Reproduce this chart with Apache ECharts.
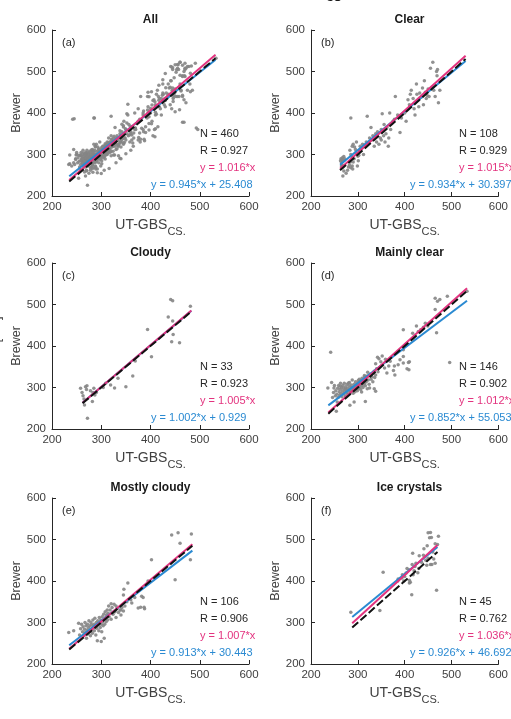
<!DOCTYPE html>
<html>
<head>
<meta charset="utf-8">
<script src="https://cdn.jsdelivr.net/npm/echarts@6/dist/echarts.min.js"></script>
<style>
  html, body { margin: 0; padding: 0; background: #fff; }
  #chart { width: 511px; height: 719px; }
</style>
</head>
<body>
<div id="chart"></div>
<script>
// panel texts
const titles = ['All', 'Clear', 'Cloudy', 'Mainly clear', 'Mostly cloudy', 'Ice crystals']
const panelTags = ['(a)', '(b)', '(c)', '(d)', '(e)', '(f)']
const nVals = [460, 108, 33, 146, 106, 45]
const rVals = ['0.927', '0.929', '0.923', '0.902', '0.906', '0.762']
const kVals = [1.016, 1.015, 1.005, 1.012, 1.007, 1.036]
const slopeVals = [0.945, 0.934, 1.002, 0.852, 0.913, 0.926]
const interceptVals = [25.408, 30.397, 0.929, 55.053, 30.443, 46.692]
const lineStart = [235, 262, 262, 237, 235, 288]
const lineEnd = [532, 530, 483, 533, 485, 470]
const axisTicks = [200, 300, 400, 500, 600]

// scatter points [UT-GBS, Brewer]
const clearPts = [
  [263,285],[264,290],[265,280],[266,288],[267,292],[268,283],[266,276],[270,295],[271,286],[272,290],
  [268,270],[265,272],[270,260],[268,248],[275,255],[278,262],[280,270],[282,275],[285,268],[284,282],
  [288,272],[289,265],[290,282],[292,290],[287,295],[285,300],[283,310],[288,320],[290,325],[293,318],
  [295,312],[296,305],[298,300],[300,296],[302,298],[299,272],[301,285],[304,310],[297,330],[285,388],
  [305,320],[308,315],[310,325],[312,300],[315,322],[318,330],[320,392],[322,328],[325,340],[328,365],
  [330,335],[332,345],[335,320],[338,350],[340,330],[342,355],[345,325],[348,340],[350,335],[350,360],
  [352,398],[355,345],[356,372],[358,330],[360,350],[362,365],[365,320],[366,340],[368,400],[370,360],
  [372,375],[375,380],[378,385],[380,440],[385,395],[390,353],[393,388],
  [400,400],[403,380],[407,432],[410,420],[412,445],[414,455],[418,435],[420,410],[422,395],[425,470],
  [426,445],[428,430],[430,415],[432,448],[435,438],[438,460],[440,420],[442,478],[444,450],[446,435],
  [448,442],[450,458],[452,440],[455,508],[458,462],[460,522],[462,455],[465,440],[468,500],[469,490],
  [470,505],[472,425],[475,455]
]
const cloudyPts = [
  [258,298],[261,288],[263,280],[268,302],[270,295],[271,304],[265,272],[272,226],[266,258],[278,292],
  [283,288],[282,266],[285,298],[290,288],[287,282],[304,300],[309,310],[319,306],[327,299],[334,322],
  [350,302],[364,328],[369,364],[394,440],[402,374],[436,470],[441,512],[445,509],[445,460],[443,410],
  [446,428],[459,408],[481,496]
]
const mainlyPts = [
  [242,385],[465,515],[475,512],[491,520],[465,488],[468,432],[533,532],[496,360],[397,439],[417,431],
  [429,435],[434,439],[444,455],[408,360],[405,345],[449,448],[440,445],[397,391],[470,508],[425,448],
  [352,376],[359,368],[366,352],[376,341],[379,330],[357,347],[362,335],[369,363],[386,355],[390,367],
  [397,375],[345,369],[338,357],[342,373],[335,339],[397,359],[410,362],[409,343],[321,337],[314,329],
  [311,309],[320,297],[338,291],[308,289],[301,317],[292,265],[316,266],[283,257],[254,243],[256,265],
  [246,276],[248,288],[250,305],[252,280],[253,292],[255,284],[257,298],[258,276],[259,305],[260,290],
  [261,282],[262,296],[263,310],[264,286],[265,300],[266,278],[267,292],[268,305],[269,285],[270,298],
  [271,310],[272,290],[273,280],[274,302],[275,295],[276,288],[277,308],[278,298],[279,284],[280,292],
  [281,304],[282,312],[283,296],[284,288],[285,300],[286,306],[287,292],[288,318],[289,300],[290,286],
  [291,296],[292,308],[293,300],[294,290],[295,314],[296,302],[297,296],[298,308],[299,292],[300,305],
  [301,298],[302,312],[303,320],[304,300],[305,308],[306,295],[307,316],[308,304],[309,322],[310,310],
  [311,300],[312,318],[313,308],[314,326],[315,312],[316,304],[317,320],[318,314],[320,328],[322,318],
  [324,308],[326,332],[328,320],[330,326],[332,314],[334,336],[336,324],[338,330],[340,345],[343,338],
  [236,299],[244,312],[249,299],[263,303],[273,295],[280,311],[325,299],[335,297],[349,362],[378,352]
]
const mostlyPts = [
  [234,276],[244,280],[254,298],[256,270],[300,254],[306,262],[354,395],[402,451],[443,511],[456,516],
  [460,491],[483,513],[481,451],[450,403],[380,337],[387,337],[382,363],[362,347],[345,366],[346,380],
  [320,345],[330,340],[360,355],[375,335],[340,330],[385,360],[388,333],[352,350],[368,360],[395,400],
  [258,285],[260,296],[262,278],[263,290],[265,270],[266,284],[267,300],[268,276],[269,292],[270,262],
  [271,282],[272,296],[273,272],[274,288],[275,304],[276,278],[277,292],[278,268],[279,300],[280,284],
  [281,294],[282,274],[283,306],[284,288],[285,296],[286,280],[287,310],[288,292],[289,270],[290,300],
  [291,286],[292,256],[293,304],[294,294],[295,280],[296,312],[297,298],[298,288],[299,306],[300,296],
  [301,278],[302,314],[303,302],[304,292],[305,320],[306,308],[307,296],[308,326],[309,312],[310,302],
  [311,318],[312,330],[313,306],[314,322],[315,340],[316,314],[318,330],[320,308],[322,336],[324,320],
  [326,344],[328,326],[330,312],[332,334],[335,324],[338,330],[340,318],[342,336],[345,328],[348,340]
]
const icePts = [
  [285,325],[354,421],[347,329],[415,367],[450,516],[455,517],[453,504],[457,505],[472,508],[465,490],
  [448,485],[441,478],[417,467],[431,461],[440,462],[462,453],[465,443],[455,440],[424,443],[416,440],
  [409,427],[403,419],[400,411],[394,407],[386,405],[410,402],[420,425],[412,397],[468,378],[430,430],
  [436,445],[405,430],[395,415],[418,415],[428,420],[445,450],[450,455],[460,470],[470,488],[422,435],
  [398,400],[385,400],[410,395],[458,440],[447,438]
]
// points of "All" that belong to no single sky class
const otherPts = [
  [245,386],[286,388],[465,378],[493,364],[236,278],[240,272],[248,290],[250,300],[460,522],[478,512],
  [470,520],[445,505],[452,498],[480,470],[485,455],[430,495],[425,480],[395,450],[375,410],[330,280],
  [340,290],[360,310]
]
const allPts = otherPts.concat(clearPts, cloudyPts, mainlyPts, mostlyPts, icePts)
const panelPts = [allPts, clearPts, cloudyPts, mainlyPts, mostlyPts, icePts]

const FONT = '"Liberation Sans", Arial, Helvetica, sans-serif'
const PINK = '#e3337f'
const BLUE = '#2a8ad2'
const GREY = '#404040'
const gridLefts = [52, 311]
const gridTops = [30, 263, 498]
const gridW = 197
const gridH = 166

const grids = []
const xAxes = []
const yAxes = []
const series = []
const graphics = []

panelPts.forEach((pts, i) => {
  const left = gridLefts[i % 2]
  const top = gridTops[Math.floor(i / 2)]
  grids.push({ left, top, width: gridW, height: gridH })

  const axisBase = {
    type: 'value',
    min: axisTicks[0],
    max: axisTicks[axisTicks.length - 1],
    interval: axisTicks[1] - axisTicks[0],
    gridIndex: i,
    nameLocation: 'middle',
    axisLine: { onZero: false, lineStyle: { color: '#262626', width: 1 } },
    axisTick: { inside: true, length: 4, lineStyle: { color: '#262626' } },
    axisLabel: { color: GREY, fontSize: 11.5, fontFamily: FONT },
    splitLine: { show: false }
  }
  xAxes.push({
    ...axisBase,
    name: '{m|UT-GBS}{s|CS.}',
    nameGap: 22,
    nameTextStyle: {
      rich: {
        m: { fontSize: 14, color: GREY, fontFamily: FONT, verticalAlign: 'top' },
        s: { fontSize: 11, color: GREY, fontFamily: FONT, verticalAlign: 'top', padding: [8, 0, 0, 0] }
      }
    },
    axisLabel: { ...axisBase.axisLabel, margin: 5 }
  })
  yAxes.push({
    ...axisBase,
    name: 'Brewer',
    nameGap: 28,
    nameTextStyle: { fontSize: 12.5, color: GREY, fontFamily: FONT },
    axisLabel: { ...axisBase.axisLabel, margin: 6 }
  })

  series.push({
    type: 'scatter',
    xAxisIndex: i,
    yAxisIndex: i,
    data: pts,
    symbolSize: 3.5,
    itemStyle: { color: '#858585', opacity: 0.9 },
    silent: true
  })
  const x0 = lineStart[i]
  const x1 = lineEnd[i]
  const lineBase = { type: 'line', xAxisIndex: i, yAxisIndex: i, showSymbol: false, silent: true, animation: false }
  series.push({
    ...lineBase,
    data: [[x0, slopeVals[i] * x0 + interceptVals[i]], [x1, slopeVals[i] * x1 + interceptVals[i]]],
    lineStyle: { color: BLUE, width: 2 }
  })
  series.push({
    ...lineBase,
    data: [[x0, kVals[i] * x0], [x1, kVals[i] * x1]],
    lineStyle: { color: PINK, width: 2 }
  })
  series.push({
    ...lineBase,
    data: [[x0, x0], [x1, x1]],
    lineStyle: { color: '#111', width: 2, type: [8, 3] }
  })

  // titles and fit statistics
  const txt = (text, x, y, extra) => ({
    type: 'text', x, y, silent: true,
    style: { text, font: '11px ' + FONT, fill: '#262626', textVerticalAlign: 'middle', ...extra }
  })
  graphics.push(txt(titles[i], left + gridW / 2, top - 10, { font: 'bold 12px ' + FONT, textAlign: 'center', fill: '#1a1a1a' }))
  graphics.push(txt(panelTags[i], left + 10, top + 13, {}))
  graphics.push(txt('N = ' + nVals[i], left + 148, top + 104, {}))
  graphics.push(txt('R = ' + rVals[i], left + 148, top + 121, {}))
  graphics.push(txt('y = ' + kVals[i].toFixed(3) + '*x', left + 148, top + 138, { fill: PINK }))
  graphics.push(txt('y = ' + slopeVals[i].toFixed(3) + '*x + ' + interceptVals[i].toFixed(3), left + 99, top + 155, { fill: BLUE }))
})

// clipped figure labels at the edges
graphics.push({ type: 'text', x: 326, y: -8, silent: true, style: { text: 'CS', font: 'bold 11px ' + FONT, fill: '#1a1a1a' } })
graphics.push({ type: 'text', x: -4, y: 345, rotation: Math.PI / 2, silent: true,
  style: { text: 'TCO [DU]', font: '13px ' + FONT, fill: GREY, textAlign: 'center', textVerticalAlign: 'middle' } })

const chart = echarts.init(document.getElementById('chart'))
chart.setOption({
  animation: false,
  backgroundColor: '#fff',
  grid: grids,
  xAxis: xAxes,
  yAxis: yAxes,
  series,
  graphic: graphics
})
window.addEventListener('resize', chart.resize)
</script>
</body>
</html>
